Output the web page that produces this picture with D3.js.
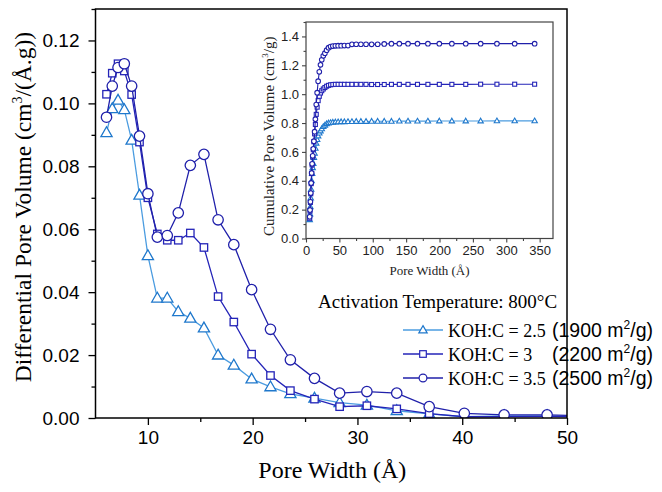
<!DOCTYPE html>
<html>
<head>
<meta charset="utf-8">
<script src="https://cdn.jsdelivr.net/npm/d3@7"></script>
<style>
  html, body { margin: 0; padding: 0; background: #fff; }
  svg { display: block; }
</style>
</head>
<body>
<div id="chart"></div>
<script>
// Pore size distribution (differential) for three KOH:C ratios
const poreWidths = [6.05, 6.6, 7.15, 7.75, 8.45, 9.2, 10.0, 10.9, 11.85, 12.9, 14.05, 15.35, 16.7,
  18.2, 19.9, 21.7, 23.6, 25.9, 28.3, 30.9, 33.75, 36.85, 40.2, 44.0, 48.1, 52.6];
const dv25 = [0.0907, 0.0983, 0.1010, 0.0980, 0.0883, 0.0708, 0.0516, 0.0381, 0.0381, 0.0338, 0.0317, 0.0286, 0.0200,
  0.0168, 0.0124, 0.0099, 0.0077, 0.0063, 0.0049, 0.0041, 0.0023, 0.0013, 0.0004, 0.0007, 0.0007, 0.0003];
const dv30 = [0.1029, 0.1096, 0.1126, 0.1103, 0.1028, 0.0877, 0.0700, 0.0585, 0.0565, 0.0565, 0.0588, 0.0542, 0.0386,
  0.0305, 0.0203, 0.0135, 0.0087, 0.0060, 0.0036, 0.0039, 0.0029, 0.0014, 0.0004, 0.0004, 0.0005, 0.0003];
const dv35 = [0.0956, 0.1055, 0.1114, 0.1126, 0.1055, 0.0896, 0.0713, 0.0575, 0.0580, 0.0652, 0.0803, 0.0838, 0.0630,
  0.0551, 0.0408, 0.0282, 0.0185, 0.0126, 0.0079, 0.0084, 0.0079, 0.0036, 0.0015, 0.0010, 0.0010, 0.0006];

// Cumulative pore volume (inset)
const cumWidths = [5.55, 6.05, 6.6, 7.15, 7.75, 8.45, 9.2, 10.0, 10.9, 11.85, 12.9, 14.05, 15.35, 16.7, 18.2, 19.9,
  21.7, 23.6, 25.9, 28.3, 30.9, 33.75, 36.85, 40.2, 44.0, 48.1, 52.6, 57.5, 62.9, 68.8, 75.2, 82.2, 89.9, 98.3,
  107.3, 117.2, 128.0, 139.8, 152.8, 167.0, 182.6, 199.7, 218.5, 239.3, 261.6, 286.0, 312.6, 342.5];
const cum25 = [0.13, 0.17, 0.22, 0.28, 0.34, 0.40, 0.45, 0.49, 0.52, 0.56, 0.59, 0.625, 0.66, 0.685, 0.71, 0.73,
  0.745, 0.76, 0.775, 0.785, 0.795, 0.800, 0.803, 0.805, 0.807, 0.808, 0.809, 0.809, 0.810, 0.810, 0.811, 0.811,
  0.811, 0.812, 0.812, 0.812, 0.812, 0.813, 0.813, 0.813, 0.813, 0.814, 0.814, 0.814, 0.814, 0.815, 0.815, 0.815];
const cum30 = [0.14, 0.19, 0.25, 0.31, 0.38, 0.45, 0.51, 0.565, 0.615, 0.67, 0.725, 0.79, 0.86, 0.91, 0.955, 0.985,
  1.008, 1.024, 1.036, 1.046, 1.055, 1.061, 1.065, 1.067, 1.068, 1.068, 1.068, 1.068, 1.068, 1.068, 1.068, 1.068,
  1.068, 1.067, 1.067, 1.067, 1.068, 1.068, 1.068, 1.068, 1.068, 1.068, 1.068, 1.068, 1.069, 1.069, 1.069, 1.069];
const cum35 = [0.15, 0.198, 0.254, 0.315, 0.385, 0.454, 0.518, 0.573, 0.621, 0.674, 0.74, 0.827, 0.928, 1.01, 1.09, 1.155,
  1.203, 1.238, 1.266, 1.284, 1.305, 1.322, 1.330, 1.333, 1.335, 1.336, 1.336, 1.337, 1.337, 1.345, 1.346, 1.346,
  1.346, 1.345, 1.346, 1.348, 1.350, 1.350, 1.350, 1.350, 1.350, 1.350, 1.350, 1.350, 1.350, 1.350, 1.350, 1.350];

const seriesNames = ["KOH:C = 2.5", "KOH:C = 3", "KOH:C = 3.5"];
const surfaceAreas = ["1900", "2200", "2500"];
const xTicksMain = [10, 20, 30, 40, 50];
const yTicksMain = [0.00, 0.02, 0.04, 0.06, 0.08, 0.10, 0.12];
const xTicksInset = [0, 50, 100, 150, 200, 250, 300, 350];
const yTicksInset = [0.0, 0.2, 0.4, 0.6, 0.8, 1.0, 1.2, 1.4];

const styles = [
  { line: "#4b9ce0", stroke: "#1f78cc", shape: "triangle" },
  { line: "#2424b8", stroke: "#2424b8", shape: "square" },
  { line: "#2020aa", stroke: "#2020aa", shape: "circle" }
];

const W = 662, H = 492;
const svg = d3.select("#chart").append("svg").attr("width", W).attr("height", H);

const serif = "'Liberation Serif', 'Times New Roman', serif";
const sans = "'Liberation Sans', Arial, sans-serif";
const narrow = "'Liberation Sans Narrow', 'Liberation Sans', Arial, sans-serif";

// ---------- main chart ----------
const M = { left: 95.5, right: 567, top: 9, bottom: 418 };
const x = d3.scaleLinear().domain([5, 50]).range([M.left, M.right]);
const y = d3.scaleLinear().domain([0, 0.13]).range([M.bottom, M.top]);

svg.append("clipPath").attr("id", "clipMain").append("rect")
  .attr("x", M.left).attr("y", M.top).attr("width", M.right - M.left).attr("height", M.bottom - M.top);

function marker(sel, shape, size, stroke, sw) {
  if (shape === "circle") {
    sel.append("circle").attr("r", size).attr("fill", "#fff").attr("stroke", stroke).attr("stroke-width", sw);
  } else if (shape === "square") {
    sel.append("rect").attr("x", -size).attr("y", -size).attr("width", 2 * size).attr("height", 2 * size)
      .attr("fill", "#fff").attr("stroke", stroke).attr("stroke-width", sw);
  } else {
    const h = size * 1.75, w = size * 2;
    sel.append("path").attr("d", `M0,${-h * 0.6}L${w / 2},${h * 0.4}L${-w / 2},${h * 0.4}Z`)
      .attr("fill", "#fff").attr("stroke", stroke).attr("stroke-width", sw).attr("stroke-linejoin", "miter");
  }
}

const mainSeries = [dv25, dv30, dv35];
const mainSizes = [5.6, 3.7, 5.2];
const plotMain = svg.append("g").attr("clip-path", "url(#clipMain)");
mainSeries.forEach((vals, i) => {
  const pts = poreWidths.map((w, k) => [w, vals[k]]);
  const g = plotMain.append("g");
  g.append("path").datum(pts)
    .attr("d", d3.line().x(d => x(d[0])).y(d => y(d[1])))
    .attr("fill", "none").attr("stroke", styles[i].line).attr("stroke-width", 1.3);
  pts.forEach(p => {
    const m = g.append("g").attr("transform", `translate(${x(p[0])},${y(p[1])})`);
    marker(m, styles[i].shape, mainSizes[i], styles[i].stroke, 1.3);
  });
});

// axes
const xAxis = d3.axisBottom(x).tickValues(xTicksMain).tickSize(7).tickPadding(6).tickFormat(d3.format("d"));
const gx = svg.append("g").attr("transform", `translate(0,${M.bottom})`).call(xAxis);
gx.selectAll(".tick text").attr("font-family", narrow).attr("font-size", 19).attr("fill", "#000");
const xMinor = d3.axisBottom(x).tickValues([15, 25, 35, 45]).tickSize(4).tickFormat("");
svg.append("g").attr("transform", `translate(0,${M.bottom})`).call(xMinor);

const yAxis = d3.axisLeft(y).tickValues(yTicksMain).tickSize(7).tickPadding(9).tickFormat(d3.format(".2f"));
const gy = svg.append("g").attr("transform", `translate(${M.left},0)`).call(yAxis);
gy.selectAll(".tick text").attr("font-family", narrow).attr("font-size", 19).attr("fill", "#000");
const yMinor = d3.axisLeft(y).tickValues([0.01, 0.03, 0.05, 0.07, 0.09, 0.11, 0.13]).tickSize(4).tickFormat("");
svg.append("g").attr("transform", `translate(${M.left},0)`).call(yMinor);
svg.selectAll(".domain").remove();
svg.selectAll(".tick line").attr("stroke", "#000").attr("stroke-width", 1.3);

// frame
svg.append("rect").attr("x", M.left).attr("y", M.top)
  .attr("width", M.right - M.left).attr("height", M.bottom - M.top)
  .attr("fill", "none").attr("stroke", "#000").attr("stroke-width", 1.5);

// axis titles
svg.append("text").attr("x", (M.left + M.right) / 2 + 1).attr("y", 478)
  .attr("text-anchor", "middle").attr("font-family", serif).attr("font-size", 24)
  .text("Pore Width (Å)");
const yt = svg.append("text").attr("transform", "translate(31,207) rotate(-90)")
  .attr("text-anchor", "middle").attr("font-family", serif).attr("font-size", 23.5);
yt.append("tspan").text("Differential Pore Volume (cm");
yt.append("tspan").attr("font-size", 14).attr("dy", -9).text("3");
yt.append("tspan").attr("dy", 9).text("/(Å.g))");

// ---------- inset ----------
const I = { left: 306, right: 553, top: 22, bottom: 238.5 };
const xi = d3.scaleLinear().domain([0, 370]).range([I.left, I.right]);
const yi = d3.scaleLinear().domain([0, 1.5]).range([I.bottom, I.top]);

svg.append("rect").attr("x", I.left).attr("y", I.top)
  .attr("width", I.right - I.left).attr("height", I.bottom - I.top)
  .attr("fill", "#fff").attr("stroke", "#444").attr("stroke-width", 1.2);

const insetSeries = [cum25, cum30, cum35];
const insetSizes = [2.7, 2.0, 2.3];
insetSeries.forEach((vals, i) => {
  const pts = cumWidths.map((w, k) => [w, vals[k]]);
  const g = svg.append("g");
  g.append("path").datum(pts)
    .attr("d", d3.line().x(d => xi(d[0])).y(d => yi(d[1])))
    .attr("fill", "none").attr("stroke", styles[i].line).attr("stroke-width", 1.1);
  pts.forEach(p => {
    const m = g.append("g").attr("transform", `translate(${xi(p[0])},${yi(p[1])})`);
    marker(m, styles[i].shape, insetSizes[i], styles[i].stroke, 1.1);
  });
});

const gxi = svg.append("g").attr("transform", `translate(0,${I.bottom})`)
  .call(d3.axisBottom(xi).tickValues(xTicksInset).tickSize(4).tickPadding(3).tickFormat(d3.format("d")));
const gxim = svg.append("g").attr("transform", `translate(0,${I.bottom})`)
  .call(d3.axisBottom(xi).tickValues([25, 75, 125, 175, 225, 275, 325, 375].filter(v => v <= 370)).tickSize(2.5).tickFormat(""));
const gyi = svg.append("g").attr("transform", `translate(${I.left},0)`)
  .call(d3.axisLeft(yi).tickValues(yTicksInset).tickSize(4).tickPadding(3).tickFormat(d3.format(".1f")));
const gyim = svg.append("g").attr("transform", `translate(${I.left},0)`)
  .call(d3.axisLeft(yi).tickValues([0.1, 0.3, 0.5, 0.7, 0.9, 1.1, 1.3, 1.5]).tickSize(2.5).tickFormat(""));
[gxi, gxim, gyi, gyim].forEach(g => {
  g.select(".domain").remove();
  g.selectAll(".tick line").attr("stroke", "#444").attr("stroke-width", 1.1);
  g.selectAll(".tick text").attr("font-family", sans).attr("font-size", 13).attr("fill", "#222");
});

svg.append("text").attr("x", (I.left + I.right) / 2).attr("y", 275)
  .attr("text-anchor", "middle").attr("font-family", serif).attr("font-size", 13).attr("fill", "#222")
  .text("Pore Width (Å)");
const yti = svg.append("text").attr("transform", `translate(274,${(I.top + I.bottom) / 2 + 6}) rotate(-90)`)
  .attr("text-anchor", "middle").attr("font-family", serif).attr("font-size", 15).attr("fill", "#222");
yti.append("tspan").text("Cumulative Pore Volume (cm");
yti.append("tspan").attr("font-size", 9).attr("dy", -6).text("3");
yti.append("tspan").attr("dy", 6).text("/g)");

// ---------- legend ----------
svg.append("text").attr("x", 318).attr("y", 308)
  .attr("font-family", serif).attr("font-size", 19).text("Activation Temperature: 800°C");

const legendSizes = [4.2, 3.3, 3.9];
seriesNames.forEach((name, i) => {
  const cy = 330 + i * 24;
  const g = svg.append("g");
  g.append("line").attr("x1", 403).attr("x2", 443).attr("y1", cy).attr("y2", cy)
    .attr("stroke", styles[i].line).attr("stroke-width", 1.3);
  const m = g.append("g").attr("transform", `translate(423,${cy})`);
  marker(m, styles[i].shape, legendSizes[i], styles[i].stroke, 1.2);
  g.append("text").attr("x", 448).attr("y", cy + 6.5)
    .attr("font-family", serif).attr("font-size", 18).text(name);
  const t = g.append("text").attr("x", 552).attr("y", cy + 7)
    .attr("font-family", sans).attr("font-size", 19.5);
  t.append("tspan").text(`(${surfaceAreas[i]} m`);
  t.append("tspan").attr("font-size", 12).attr("dy", -8).text("2");
  t.append("tspan").attr("dy", 8).text("/g)");
});
</script>
</body>
</html>
